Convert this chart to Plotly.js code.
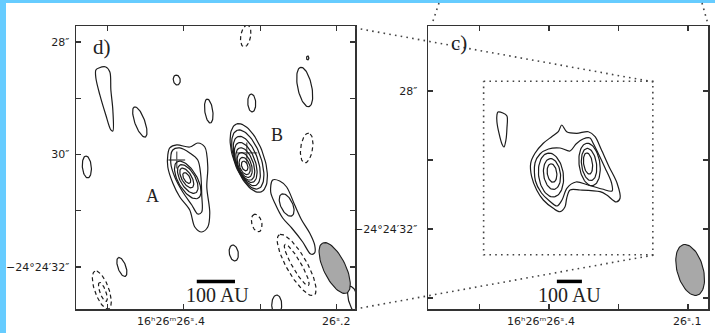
<!DOCTYPE html>
<html><head><meta charset="utf-8">
<script src="https://cdn.plot.ly/plotly-3.0.1.min.js"></script>
<style>html,body{margin:0;padding:0;background:#fff}#chart{width:715px;height:333px}</style>
</head><body><div id="chart"></div><script>
// ---------- axes / ranges (RA seconds of 16h26m, Dec arcsec of -24d24m) ----------
const dRA = [26.541, 26.176];
const dDec = [27.716, 32.747];
const cRA = [26.661, 26.057];
const cDec = [26.116, 34.319];
const dTicksRA = [26.5, 26.4, 26.3, 26.2];
const dTicksDec = [28, 30, 32];
const dMinorDec = [29, 31];
const dDecLabels = ['28″', '30″', '−24°24′32″'];
const dRALabelVals = [26.4, 26.2];
const dRALabels = ['16ʰ26ᵐ26ˢ.4', '26ˢ.2'];
const cTicksRA = [26.55, 26.40, 26.25, 26.10];
const cTicksDec = [28, 32];
const cMinorDec = [30, 34];
const cDecLabels = ['28″', '−24°24′32″'];
const cRALabelVals = [26.4, 26.1];
const cRALabels = ['16ʰ26ᵐ26ˢ.4', '26ˢ.1'];

// ---------- panel d) contours ----------
const dTearRA  = [26.5111,26.5020,26.4967,26.4954,26.4928,26.4928,26.4954,26.5020,26.5098,26.5150,26.5150];
const dTearDec = [28.462,28.444,28.533,28.853,29.209,29.582,29.564,29.298,28.942,28.640,28.498];
const dAOuterRA  = [26.4183,26.4092,26.3922,26.3817,26.3725,26.3686,26.3699,26.3660,26.3686,26.3765,26.3856,26.3922,26.4052,26.4144,26.4209,26.4209];
const dAOuterDec = [29.884,29.831,29.867,29.796,29.867,30.222,30.578,31.040,31.289,31.378,31.289,30.987,30.756,30.507,30.222,30.009];
const dA2RA  = [26.4144,26.4052,26.3922,26.3817,26.3778,26.3765,26.3765,26.3817,26.3895,26.4013,26.4118,26.4170];
const dA2Dec = [29.920,29.884,29.973,30.098,30.364,30.720,31.022,31.058,30.898,30.667,30.400,30.151];
const dTailRA  = [26.2837,26.2745,26.2654,26.2549,26.2458,26.2353,26.2288,26.2288,26.2340,26.2444,26.2588,26.2706,26.2797,26.2863];
const dTailDec = [30.453,30.471,30.578,30.898,31.164,31.396,31.609,31.751,31.769,31.556,31.307,31.129,30.898,30.667];
// elliptical contours: centre RA, centre Dec, semi-major ("), semi-minor ("), PA (deg E of N)
const dPosRA  = [26.4092,26.4575,26.5268,26.3673,26.3111,26.2418,26.2379,26.3346,26.4810,26.2784,26.1778,26.2654,
                 26.3948,26.3948,26.3961,26.3961,
                 26.3150,26.3163,26.3176,26.3190,26.3196,26.3203,26.3203,26.3203];
const dPosDec = [28.676,29.422,30.222,29.227,29.084,28.800,28.284,31.751,32.000,32.676,32.587,30.898,
                 30.453,30.436,30.418,30.418,
                 30.062,30.089,30.116,30.142,30.169,30.187,30.204,30.204];
const dPosMaj = [0.089,0.285,0.196,0.214,0.160,0.357,0.036,0.143,0.178,0.178,0.250,0.214,
                 0.374,0.285,0.196,0.107,
                 0.642,0.553,0.463,0.374,0.303,0.232,0.160,0.089];
const dPosMin = [0.062,0.089,0.080,0.071,0.071,0.125,0.021,0.080,0.071,0.089,0.089,0.107,
                 0.169,0.134,0.089,0.053,
                 0.267,0.232,0.196,0.169,0.143,0.116,0.089,0.053];
const dPosPA  = [10,20,5,8,3,12,0,10,20,0,15,25,
                 30,30,30,30,
                 20,20,20,20,20,20,20,20];
const dNegRA  = [26.3190,26.2392,26.3046,26.2523,26.2523,26.5072,26.5059];
const dNegDec = [27.893,29.884,31.218,31.964,31.964,32.409,32.444];
const dNegMaj = [0.196,0.267,0.160,0.620,0.420,0.357,0.178];
const dNegMin = [0.089,0.107,0.089,0.180,0.080,0.125,0.053];
const dNegPA  = [-10,-8,15,30,30,20,20];
const dCrossRA  = [26.4092, 26.3176];
const dCrossDec = [30.098, 29.973];
const dCrossSize = [12, 15];
const dBeam = {ra: 26.2026, dec: 32.018, maj: 0.494, min: 0.196, pa: 26};
const dBarRA = [26.383, 26.333];
const dBarDec = [32.258, 32.258];

// ---------- panel c) contours ----------
const cTearRA  = [26.5101,26.4994,26.4907,26.4907,26.4929,26.4972,26.5015,26.5080,26.5123,26.5123];
const cTearDec = [28.609,28.638,28.725,29.072,29.420,29.623,29.536,29.217,28.899,28.696];
const cOuterRA  = [26.3726,26.3618,26.3402,26.3151,26.3006,26.2877,26.2704,26.2531,26.2467,26.2553,26.2754,26.2898,26.3330,26.3546,26.3618,26.3654,26.3762,26.3907,26.4123,26.4266,26.4374,26.4395,26.4302,26.4123,26.3942,26.3799];
const cOuterDec = [28.986,29.180,29.226,29.180,29.325,29.681,30.194,30.675,31.110,31.217,31.014,30.919,30.870,30.870,31.110,31.354,31.499,31.400,31.159,30.870,30.484,30.096,29.806,29.516,29.325,29.180];
const cMidRA  = [26.4302,26.4194,26.4011,26.3762,26.3546,26.3417,26.3266,26.3114,26.3050,26.2942,26.2790,26.2650,26.2639,26.2855,26.3158,26.3417,26.3611,26.3719,26.3827,26.3989,26.4162,26.4292];
const cMidDec = [30.087,29.826,29.681,29.652,29.739,29.536,29.391,29.362,29.507,29.797,30.232,30.667,30.899,30.841,30.725,30.638,30.812,31.159,31.333,31.188,30.957,30.609];
const cRingRA  = [26.3957,26.3935,26.3935,26.3125,26.3136,26.3158];
const cRingDec = [30.435,30.406,30.377,30.130,30.130,30.101];
const cRingMaj = [0.64,0.45,0.27,0.62,0.47,0.31];
const cRingMin = [0.364,0.248,0.14,0.306,0.22,0.13];
const cRingPA  = [8,8,8,8,8,8];
const cBeam = {ra: 26.0955, dec: 33.188, maj: 0.76, min: 0.383, pa: 16};
const cBarRA = [26.383, 26.329];
const cBarDec = [33.52, 33.52];

// ---------- drawing ----------
const INK = '#1c1c1c';
const ARCSEC_PER_S = 15 * Math.cos(24.408 * Math.PI / 180);
const traces = [];
function poly(ra, dec, xa, ya, dashed) {
  traces.push({type:'scatter', mode:'lines', x: ra.concat([ra[0]]), y: dec.concat([dec[0]]),
    xaxis: xa, yaxis: ya, hoverinfo:'skip', showlegend:false,
    line:{color:INK, width:1.2, shape:'spline', smoothing:0.9, dash: dashed ? '4px,3px' : 'solid'}});
}
function ellipse(ra0, dec0, a, b, pa) {
  const xs = [], ys = [], p = pa * Math.PI / 180, n = 72;
  for (let i = 0; i <= n; i++) {
    const t = 2 * Math.PI * i / n;
    const e = a * Math.cos(t) * Math.sin(p) + b * Math.sin(t) * Math.cos(p);
    const nn = a * Math.cos(t) * Math.cos(p) - b * Math.sin(t) * Math.sin(p);
    xs.push(ra0 + e / ARCSEC_PER_S); ys.push(dec0 - nn);
  }
  return [xs, ys];
}
function ell(ra0, dec0, a, b, pa, xa, ya, dashed) {
  const [xs, ys] = ellipse(ra0, dec0, a, b, pa);
  traces.push({type:'scatter', mode:'lines', x: xs, y: ys, xaxis: xa, yaxis: ya, hoverinfo:'skip', showlegend:false,
    line:{color:INK, width:1.2, dash: dashed ? '4px,3px' : 'solid'}});
}
function beam(bm, xa, ya) {
  const [xs, ys] = ellipse(bm.ra, bm.dec, bm.maj, bm.min, bm.pa);
  traces.push({type:'scatter', mode:'lines', x: xs, y: ys, xaxis: xa, yaxis: ya, fill:'toself', fillcolor:'#a8a8a8',
    hoverinfo:'skip', showlegend:false, line:{color:INK, width:1.1}});
}

// panel d
poly(dTearRA, dTearDec, 'x', 'y');
poly(dAOuterRA, dAOuterDec, 'x', 'y');
poly(dA2RA, dA2Dec, 'x', 'y');
poly(dTailRA, dTailDec, 'x', 'y');
dPosRA.forEach((r, i) => ell(r, dPosDec[i], dPosMaj[i], dPosMin[i], dPosPA[i], 'x', 'y', false));
dNegRA.forEach((r, i) => ell(r, dNegDec[i], dNegMaj[i], dNegMin[i], dNegPA[i], 'x', 'y', true));
traces.push({type:'scatter', mode:'markers', x: dCrossRA, y: dCrossDec, xaxis:'x', yaxis:'y', hoverinfo:'skip', showlegend:false,
  marker:{symbol:'cross-thin', size: dCrossSize, line:{color:INK, width:1.3}}});
beam(dBeam, 'x', 'y');
traces.push({type:'scatter', mode:'lines', x: dBarRA, y: dBarDec, xaxis:'x', yaxis:'y', hoverinfo:'skip', showlegend:false,
  line:{color:'#000', width:3.5}});

// panel c
poly(cTearRA, cTearDec, 'x2', 'y2');
poly(cOuterRA, cOuterDec, 'x2', 'y2');
poly(cMidRA, cMidDec, 'x2', 'y2');
cRingRA.forEach((r, i) => ell(r, cRingDec[i], cRingMaj[i], cRingMin[i], cRingPA[i], 'x2', 'y2', false));
traces.push({type:'scatter', mode:'lines', xaxis:'x2', yaxis:'y2', hoverinfo:'skip', showlegend:false,
  x:[dRA[0], dRA[1], dRA[1], dRA[0], dRA[0]], y:[dDec[0], dDec[0], dDec[1], dDec[1], dDec[0]],
  line:{color:'#444', width:1.6, dash:'1.6px,4.2px'}});
beam(cBeam, 'x2', 'y2');
traces.push({type:'scatter', mode:'lines', x: cBarRA, y: cBarDec, xaxis:'x2', yaxis:'y2', hoverinfo:'skip', showlegend:false,
  line:{color:'#000', width:3.5}});

const W = 715, H = 333;
const tickFont = {family:'DejaVu Sans', size:11, color:'#1e1e1e'};
const minorBase = {ticks:'inside', ticklen:5, tickwidth:1.2, tickcolor:'#333', showgrid:false};
const axBase = {showgrid:false, zeroline:false, showline:true, linecolor:'#333', linewidth:1.5, mirror:'ticks',
  ticks:'inside', ticklen:5, tickwidth:1.2, tickcolor:'#333', tickmode:'array', tickfont: tickFont};
const layout = {
  width: W, height: H, margin:{l:0, r:0, t:0, b:0}, paper_bgcolor:'#fff', plot_bgcolor:'#fff', showlegend:false,
  xaxis: Object.assign({}, axBase, {domain:[76/W, 355/W], range: dRA, anchor:'y', tickvals: dTicksRA, showticklabels:false}),
  yaxis: Object.assign({}, axBase, {domain:[1-309/H, 1-26/H], range:[dDec[1], dDec[0]], anchor:'x', tickvals: dTicksDec, ticktext: dDecLabels, ticklabelstandoff: 3,
    minor: Object.assign({tickmode:'array', tickvals: dMinorDec}, minorBase)}),
  xaxis2: Object.assign({}, axBase, {domain:[428/W, 708/W], range: cRA, anchor:'y2', tickvals: cTicksRA, showticklabels:false}),
  yaxis2: Object.assign({}, axBase, {domain:[1-309/H, 1-26/H], range:[cDec[1], cDec[0]], anchor:'x2', tickvals: cTicksDec, ticktext: cDecLabels, ticklabelstandoff: 7,
    minor: Object.assign({tickmode:'array', tickvals: cMinorDec}, minorBase)}),
  annotations: [],
  shapes: [
    {type:'rect', xref:'paper', yref:'paper', x0:0, x1:6/W, y0:0, y1:1, fillcolor:'#66ccff', line:{width:0}, layer:'below'},
    {type:'rect', xref:'paper', yref:'paper', x0:0, x1:1, y0:1-3/H, y1:1, fillcolor:'#66ccff', line:{width:0}, layer:'below'},
    {type:'line', xref:'paper', yref:'paper', x0:355/W, y0:1-28/H, x1:654/W, y1:1-82/H, line:{color:'#444', width:1.6, dash:'1.6px,4.2px'}},
    {type:'line', xref:'paper', yref:'paper', x0:355/W, y0:1-309/H, x1:654/W, y1:1-255/H, line:{color:'#444', width:1.6, dash:'1.6px,4.2px'}},
    {type:'line', xref:'paper', yref:'paper', x0:439/W, y0:1-3/H, x1:432/W, y1:1-24/H, line:{color:'#444', width:1.6, dash:'1.6px,4.2px'}},
    {type:'line', xref:'paper', yref:'paper', x0:702/W, y0:1-3/H, x1:708/W, y1:1-24/H, line:{color:'#444', width:1.6, dash:'1.6px,4.2px'}}
  ]
};
const serif = {family:'Liberation Serif', color:'#222'};
const A = layout.annotations;
function txt(x, y, xr, yr, text, size) { A.push({x, y, xref: xr, yref: yr, text, showarrow:false, font: Object.assign({size}, serif)}); }
txt(26.5072, 28.089, 'x', 'y', 'd)', 21);
txt(26.4405, 30.738, 'x', 'y', 'A', 18);
txt(26.2784, 29.653, 'x', 'y', 'B', 18);
txt(26.3556, 32.498, 'x', 'y', '100 AU', 20);
txt(26.5944, 26.609, 'x2', 'y2', 'c)', 21);
txt(26.3568, 33.913, 'x2', 'y2', '100 AU', 20);
A.push({x: dRALabelVals[0], y: 1-313/H, xref:'x', yref:'paper', text: dRALabels[0], showarrow:false, xanchor:'right', yanchor:'top', xshift:23, font: tickFont});
A.push({x: dRALabelVals[1], y: 1-313/H, xref:'x', yref:'paper', text: dRALabels[1], showarrow:false, xanchor:'center', yanchor:'top', font: tickFont});
A.push({x: cRALabelVals[0], y: 1-313/H, xref:'x2', yref:'paper', text: cRALabels[0], showarrow:false, xanchor:'right', yanchor:'top', xshift:28, font: tickFont});
A.push({x: cRALabelVals[1], y: 1-313/H, xref:'x2', yref:'paper', text: cRALabels[1], showarrow:false, xanchor:'center', yanchor:'top', xshift:-1, font: tickFont});

Plotly.newPlot('chart', traces, layout, {staticPlot:true, displayModeBar:false});
</script></body></html>
